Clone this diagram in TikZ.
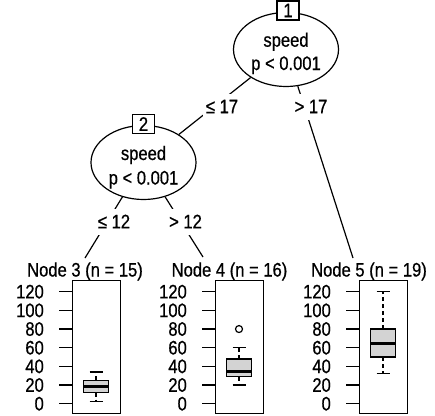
\documentclass[tikz,border=0pt]{standalone}
\usepackage{fontspec}
\setmainfont{Liberation Sans}[FakeStretch=0.85,FakeBold=0.6]
\usetikzlibrary{shapes.geometric}
\definecolor{boxfill}{HTML}{D3D3D3}
\newcommand\drawbxp[6]{% #1 centre x, #2 lower whisker, #3 q1, #4 median, #5 q3, #6 upper whisker
  \pgfmathsetmacro\yLW{403.7-0.9333*#2}%
  \pgfmathsetmacro\yQA{403.7-0.9333*#3}%
  \pgfmathsetmacro\yMD{403.7-0.9333*#4}%
  \pgfmathsetmacro\yQC{403.7-0.9333*#5}%
  \pgfmathsetmacro\yUW{403.7-0.9333*#6}%
  \draw[whisk] (#1,\yQA) -- (#1,\yLW);
  \draw[whisk] (#1,\yQC) -- (#1,\yUW);
  \draw[thin1] (#1-6.5,\yLW) -- (#1+6.5,\yLW);
  \draw[thin1] (#1-6.5,\yUW) -- (#1+6.5,\yUW);
  \draw[thin1, fill=boxfill] (#1-12.5,\yQA) rectangle (#1+12.5,\yQC);
  \draw[medline] (#1-12.5,\yMD) -- (#1+12.5,\yMD);
}
\begin{document}
\begin{tikzpicture}[x=1pt,y=-1pt,
  every node/.style={inner sep=0pt, font=\fontsize{19.5}{22}\selectfont},
  ell/.style={draw, line width=1.2pt, ellipse, minimum width=105pt, minimum height=74pt},
  idbox/.style={draw, line width=1.2pt, fill=white, minimum width=22pt, minimum height=19pt},
  elab/.style={fill=white, inner xsep=3pt, minimum height=26pt},
  conn/.style={draw, line width=1.2pt},
  panel/.style={draw, line width=1.2pt, minimum width=48pt, minimum height=133pt, anchor=north west},
  thin1/.style={line width=1.2pt},
  whisk/.style={line width=1.2pt, dash pattern=on 4pt off 3pt},
  medline/.style={line width=3pt},
  tick/.style={line width=1.2pt}]
\fill[white] (0,0) rectangle (435,415);
\useasboundingbox (0,0) rectangle (435,415);

% inner nodes
\node[ell] (n1) at (286,49.5) {};
\node[anchor=base] (n1a) at (286,46.7) {speed};
\node[anchor=base] (n1b) at (286,70) {p < 0.001};
\node[ell] (n2) at (143.5,162.5) {};
\node[anchor=base] (n2a) at (143.5,160) {speed};
\node[anchor=base] (n2b) at (143.5,184.5) {p < 0.001};

% connector ends
\coordinate (c3) at (85,258);
\coordinate (c4) at (203,257);
\coordinate (c5) at (353,258);

% connectors
\draw[conn] (n1) -- (n2);
\draw[conn] (n1) -- (c5);
\draw[conn] (n2) -- (c3);
\draw[conn] (n2) -- (c4);

% id boxes
\node[idbox] (b1) at (288,10.5) {1};
\node[idbox] (b2) at (143.5,124) {2};

% edge labels
\node[elab] (l12) at (222,106.5) {≤ 17};
\node[elab] (l15) at (311,106.5) {> 17};
\node[elab] (l23) at (114,221.5) {≤ 12};
\node[elab] (l24) at (185.5,221.5) {> 12};

% panel titles
\node[anchor=base] (t3) at (85,276.5) {Node 3 (n = 15)};
\node[anchor=base] (t4) at (229.5,276.5) {Node 4 (n = 16)};
\node[anchor=base] (t5) at (369,276.5) {Node 5 (n = 19)};

% panels with axes
\foreach \L/\id in {72/3,215/4,359/5}{
  \node[panel] (p\id) at (\L,280) {};
  \foreach \v in {0,20,...,120}{
    \pgfmathsetmacro\yy{403.7-0.9333*\v}
    \draw[tick] (\L-13,\yy) -- (\L,\yy);
    \node[anchor=east] (k\id-\v) at (\L-28,\yy) {\v};
  }
}

% box plots
\drawbxp{96}{2}{12}{18}{25}{34}
\drawbxp{239}{20}{29}{35}{48}{60}
\draw[thin1] (239,{403.7-0.9333*80}) circle (3.5);
\drawbxp{383}{32}{50}{64}{80}{120}
\end{tikzpicture}
\end{document}
